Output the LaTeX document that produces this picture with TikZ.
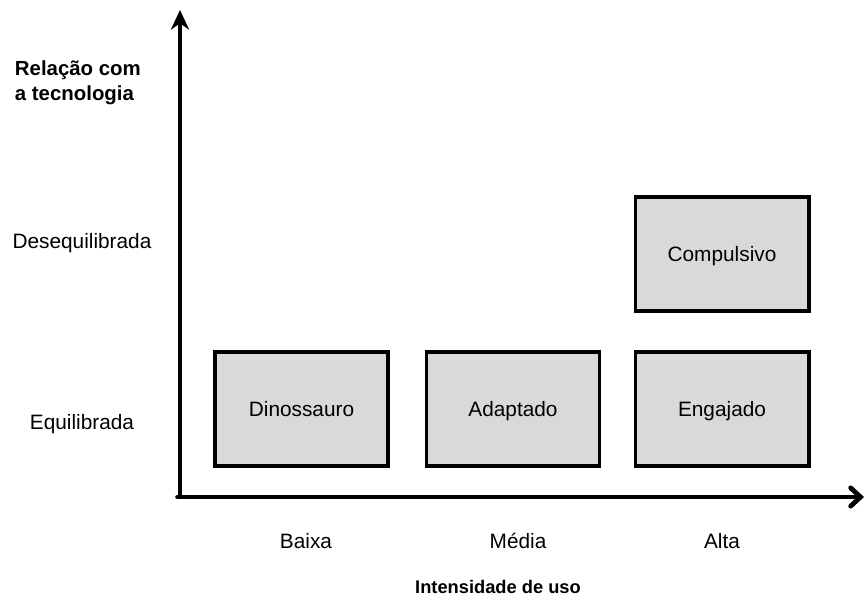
\documentclass[tikz,border=0pt]{standalone}
\usepackage{fontspec}
\setmainfont{Liberation Sans}
\usepackage{tikz}
\usetikzlibrary{arrows.meta}
\definecolor{boxgray}{HTML}{D9D9D9}
\tikzstyle{block} = [draw,rectangle,line width=2.8pt,fill=boxgray,minimum width=4.325cm,minimum height=2.85cm,text height=2.0ex,text depth=.1ex,font=\fontsize{14.8}{17}\selectfont]
\tikzstyle{axis} = [line width=3.4pt]
\tikzstyle{tick} = [text height=2.0ex,text depth=.1ex,font=\fontsize{14.8}{17}\selectfont]
\tikzstyle{title} = [font=\fontsize{14.5}{18}\selectfont\bfseries,align=left]

\begin{document}
\begin{tikzpicture}[x=0.025cm,y=-0.025cm]
    \useasboundingbox (0,0) rectangle (867,599);
    % axes end points
    \coordinate (origin) at (180,497);
    \coordinate (ytop) at (180,10);
    \coordinate (xend) at (864,497);
    % boxes
    \node[block] (dino) at (301.5,409) {Dinossauro};
    \node[block] (adap) at (513,409) {Adaptado};
    \node[block] (enga) at (722,409) {Engajado};
    \node[block] (comp) at (722,254) {Compulsivo};
    % labels
    \node[title,anchor=west] (ylabel) at (10,83) {Relação com\\a tecnologia};
    \node[tick] (deseq) at (82,241) {Desequilibrada};
    \node[tick] (equil) at (82,422) {Equilibrada};
    \node[tick] (baixa) at (306,541) {Baixa};
    \node[tick] (media) at (518,541) {Média};
    \node[tick] (alta) at (722,541) {Alta};
    \node[title,font=\fontsize{13}{15}\selectfont\bfseries] (xlabel) at (498,587) {Intensidade de uso};
    % now draw the axes
    \draw [axis,-{Stealth[length=14pt,width=13pt]}] (origin) -- (ytop);
    \draw [axis,line cap=round,-{Straight Barb[length=7pt,width=13pt,line cap=round]}] ([xshift=-1.7pt]origin) -- (xend);
\end{tikzpicture}
\end{document}
